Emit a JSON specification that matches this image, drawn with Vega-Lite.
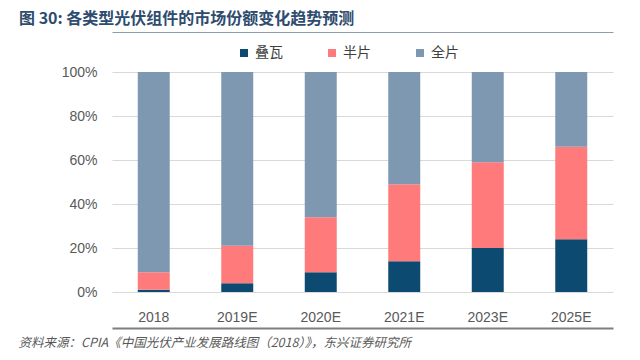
{
  "$schema": "https://vega.github.io/schema/vega-lite/v6.json",
  "width": 501,
  "height": 220,
  "autosize": "none",
  "padding": {"left": 112, "top": 72, "right": 27, "bottom": 68},
  "background": "white",
  "title": {
    "text": "图 30: 各类型光伏组件的市场份额变化趋势预测",
    "anchor": "start",
    "frame": "group",
    "dx": -93,
    "offset": 2,
    "font": "Noto Sans CJK SC",
    "fontSize": 16,
    "fontWeight": "bold",
    "color": "#2e4c6e"
  },
  "data": {
    "values": [
      {"year": "2018", "type": "叠瓦", "k": 1, "share": 0.01},
      {"year": "2018", "type": "半片", "k": 2, "share": 0.08},
      {"year": "2018", "type": "全片", "k": 3, "share": 0.91},
      {"year": "2019E", "type": "叠瓦", "k": 1, "share": 0.04},
      {"year": "2019E", "type": "半片", "k": 2, "share": 0.17},
      {"year": "2019E", "type": "全片", "k": 3, "share": 0.79},
      {"year": "2020E", "type": "叠瓦", "k": 1, "share": 0.09},
      {"year": "2020E", "type": "半片", "k": 2, "share": 0.25},
      {"year": "2020E", "type": "全片", "k": 3, "share": 0.66},
      {"year": "2021E", "type": "叠瓦", "k": 1, "share": 0.14},
      {"year": "2021E", "type": "半片", "k": 2, "share": 0.35},
      {"year": "2021E", "type": "全片", "k": 3, "share": 0.51},
      {"year": "2023E", "type": "叠瓦", "k": 1, "share": 0.20},
      {"year": "2023E", "type": "半片", "k": 2, "share": 0.39},
      {"year": "2023E", "type": "全片", "k": 3, "share": 0.41},
      {"year": "2025E", "type": "叠瓦", "k": 1, "share": 0.24},
      {"year": "2025E", "type": "半片", "k": 2, "share": 0.42},
      {"year": "2025E", "type": "全片", "k": 3, "share": 0.34}
    ]
  },
  "layer": [
    {
      "mark": {"type": "bar"},
      "encoding": {
        "x": {
          "field": "year",
          "type": "nominal",
          "sort": null,
          "scale": {"paddingInner": 0.617, "paddingOuter": 0.3085},
          "axis": {
            "orient": "bottom",
            "offset": 36,
            "domain": true,
            "domainColor": "#7f7f7f",
            "domainWidth": 2,
            "ticks": false,
            "tickSize": 0,
            "labelAngle": 0,
            "labelBaseline": "middle",
            "labelPadding": -11,
            "labelFont": "Liberation Sans",
            "labelFontSize": 14,
            "labelColor": "#595959",
            "title": "资料来源：CPIA《中国光伏产业发展路线图（2018）》，东兴证券研究所",
            "titleFont": "Noto Sans CJK SC",
            "titleFontSize": 12.5,
            "titleFontWeight": "normal",
            "titleFontStyle": "italic",
            "titleColor": "#595959",
            "titleAnchor": "start",
            "titleAlign": "left",
            "titleBaseline": "middle",
            "titleX": -94,
            "titleY": 14
          }
        },
        "y": {
          "field": "share",
          "type": "quantitative",
          "stack": "zero",
          "scale": {"domain": [0, 1]},
          "axis": {
            "values": [0, 0.2, 0.4, 0.6, 0.8, 1],
            "format": ".0%",
            "domain": false,
            "ticks": false,
            "labelPadding": 15,
            "labelFont": "Liberation Sans",
            "labelFontSize": 14,
            "labelColor": "#595959",
            "gridColor": "#d9d9d9",
            "gridWidth": 1,
            "title": null
          }
        },
        "color": {
          "field": "type",
          "type": "nominal",
          "scale": {"domain": ["叠瓦", "半片", "全片"], "range": ["#0d4a72", "#ff7b7b", "#7f98b2"]},
          "legend": {
            "orient": "none",
            "legendX": 125,
            "legendY": -26,
            "direction": "horizontal",
            "title": null,
            "symbolType": "square",
            "symbolSize": 64,
            "symbolStrokeWidth": 0,
            "labelFont": "Noto Sans CJK SC",
            "labelFontSize": 14,
            "labelColor": "#404040",
            "labelOffset": 4,
            "columnPadding": 42
          }
        },
        "order": {"field": "k", "type": "quantitative"}
      }
    },
    {
      "mark": {"type": "tick", "opacity": 0},
      "encoding": {
        "x": {
          "field": "year",
          "type": "nominal",
          "sort": null,
          "axis": {
            "orient": "top",
            "offset": 40,
            "labels": true,
            "labelOpacity": 0,
            "labelFontSize": 1,
            "labelPadding": 0,
            "ticks": true,
            "tickOpacity": 0,
            "tickSize": 0,
            "grid": false,
            "domain": true,
            "domainColor": "#8d9cb0",
            "domainWidth": 1,
            "title": null
          }
        },
        "y": {"field": "share", "type": "quantitative", "stack": null}
      }
    }
  ],
  "resolve": {"axis": {"x": "independent"}},
  "config": {"view": {"stroke": null}}
}
